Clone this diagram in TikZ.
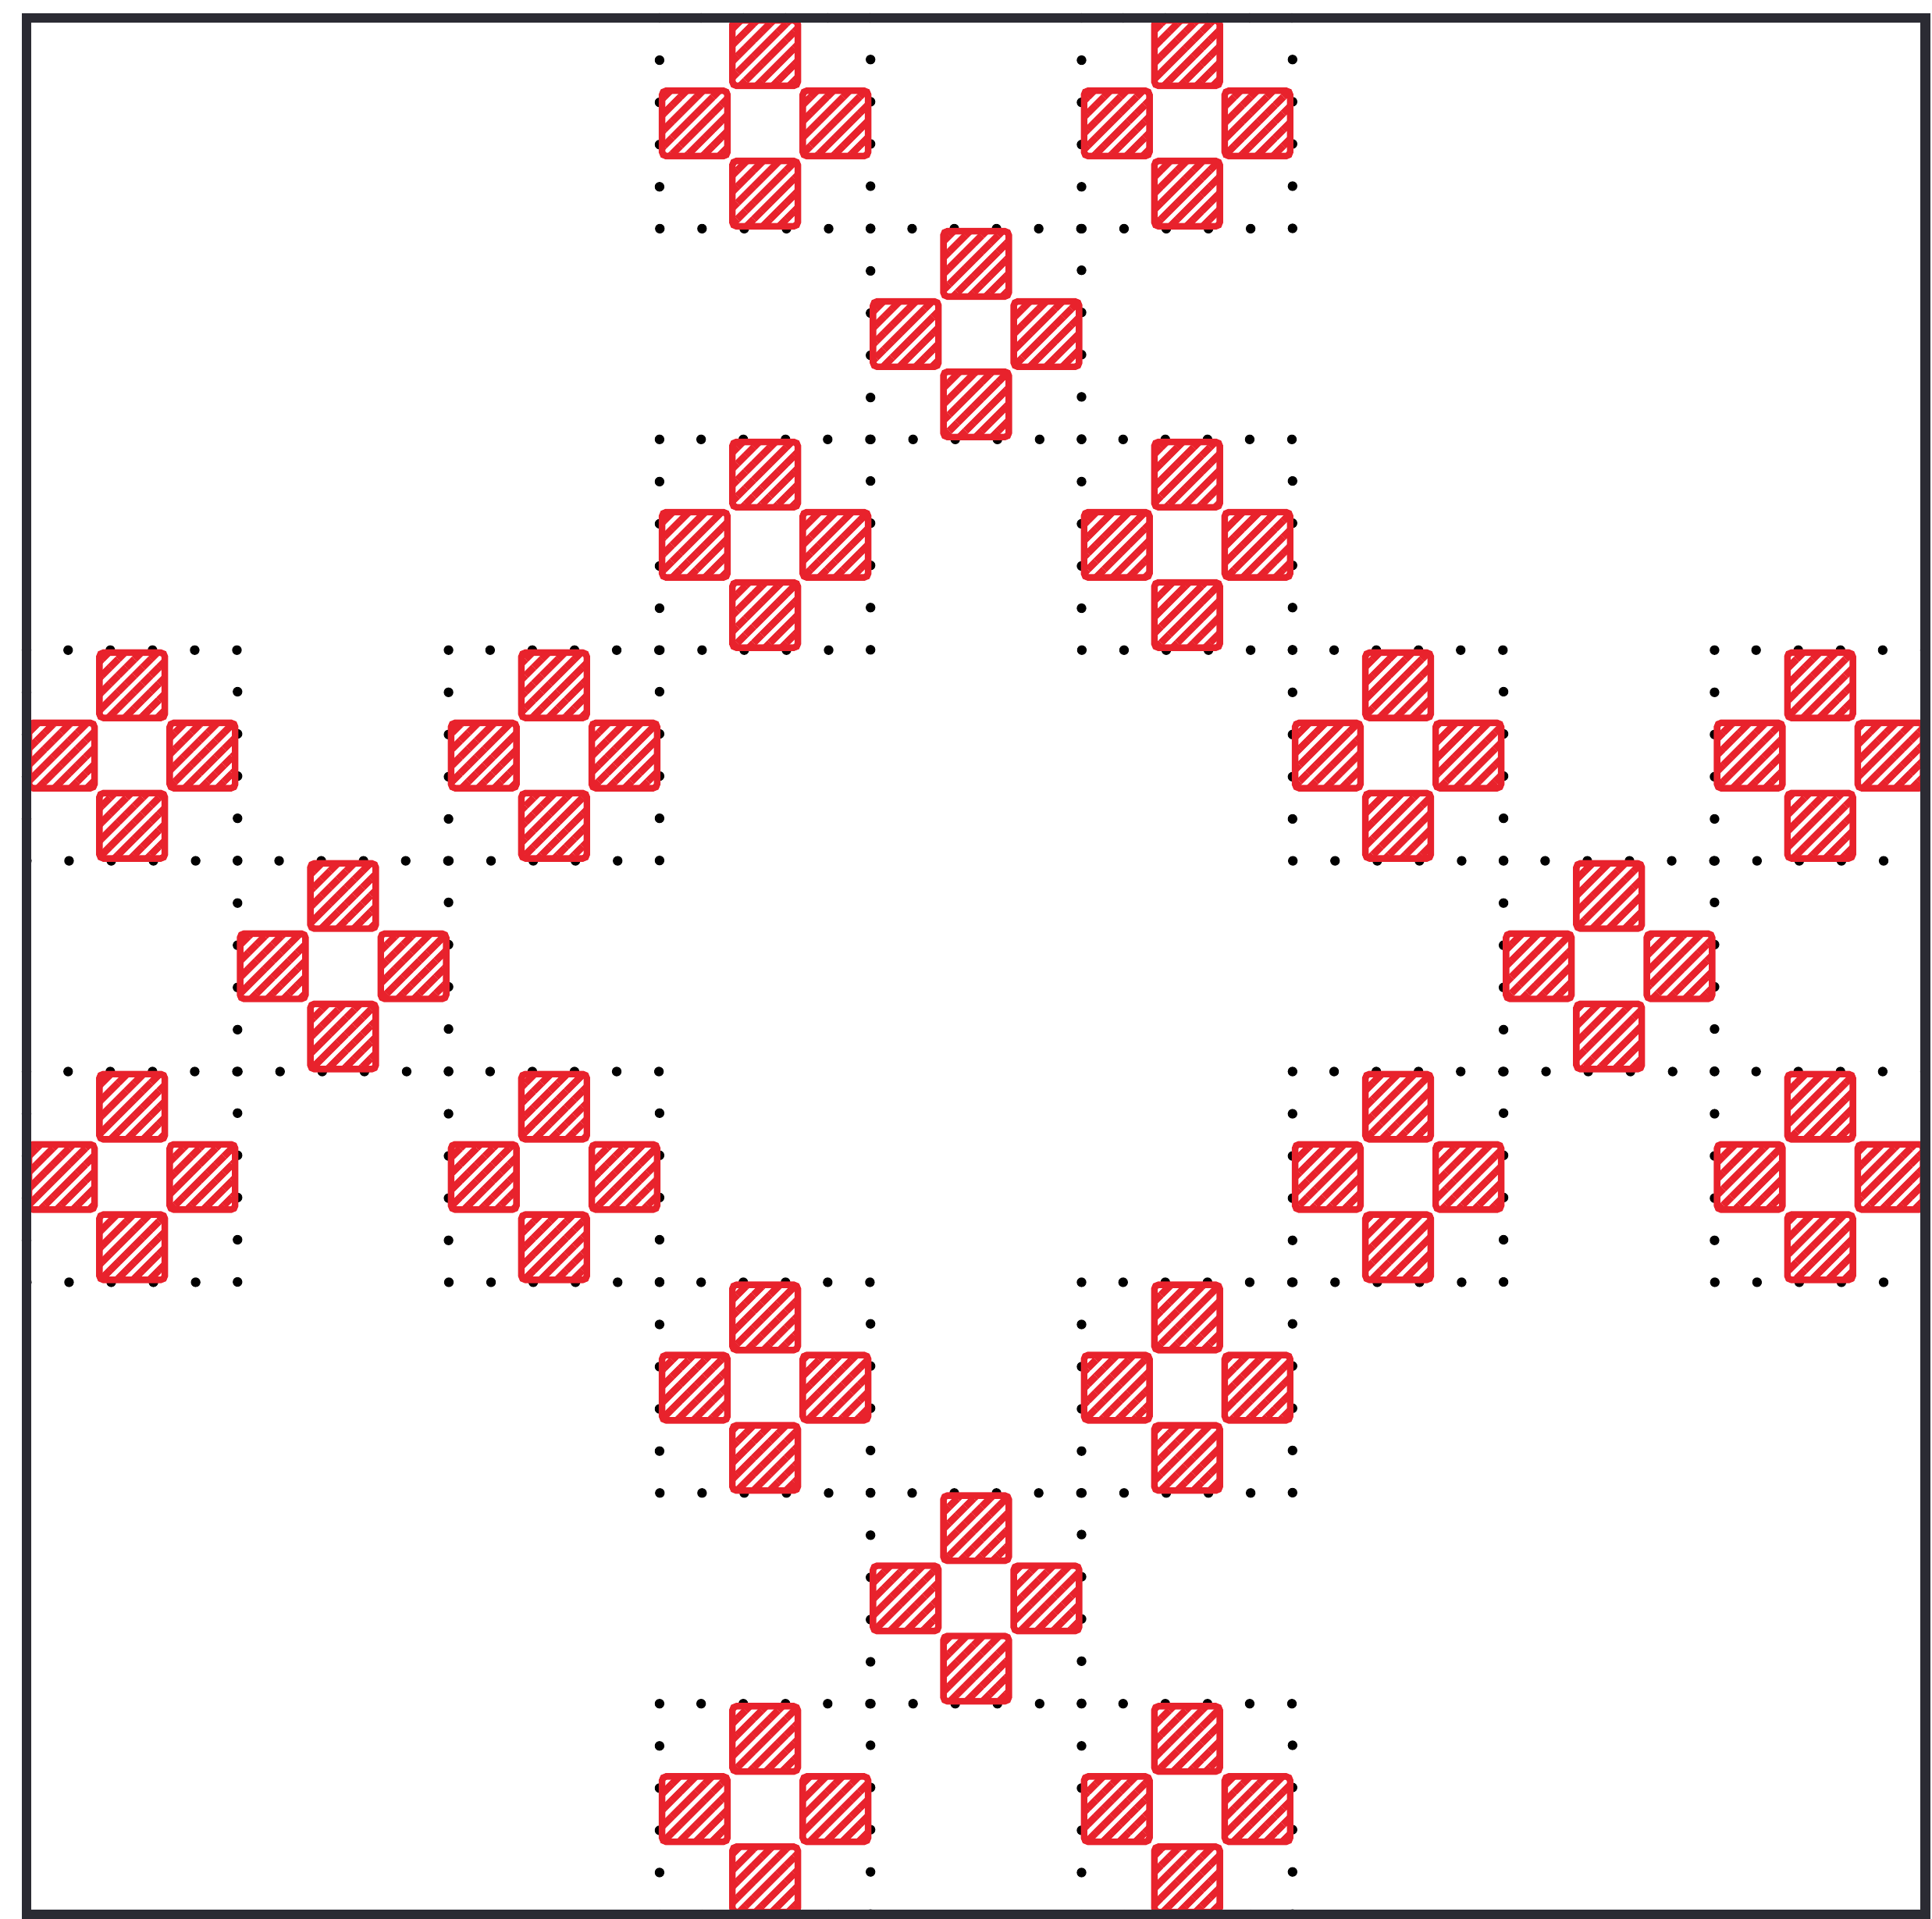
\documentclass[tikz,border=0pt]{standalone}
\usetikzlibrary{patterns.meta}
\definecolor{penred}{HTML}{E8222C}
\definecolor{pengray}{HTML}{2B2B33}

\begin{document}
\begin{tikzpicture}[x=2.703cm, y=-2.699cm,
  frame/.style={draw=pengray, line width=3.6pt},
  cellbox/.style={draw=black, line width=3.5pt, line cap=round, dash pattern=on 0pt off 5.406mm},
  redsq/.style={draw=penred, line width=2.4pt, rounded corners=1.5pt, pattern={Lines[angle=45, distance=4.2pt, line width=2.6pt]}, pattern color=penred}]
  \useasboundingbox (-0.1258,-0.0852) rectangle (9.0307,9.0182);
  % blocks in a plus, cells in an X, red squares in a plus again
  \foreach \bx/\by in {1/0,0/1,2/1,1/2}
    \foreach \cx/\cy in {0/0,2/0,1/1,0/2,2/2} {
      \draw[cellbox] (3*\bx+\cx,3*\by+\cy) rectangle ++(1,1);
      \foreach \sx/\sy in {1/0,0/1,2/1,1/2}
        \draw[redsq] ({3*\bx+\cx+\sx/3+0.012},{3*\by+\cy+\sy/3+0.012}) rectangle ++(0.31,0.31);
    }
  \draw[frame] (0,0) rectangle (9,9);
\end{tikzpicture}
\end{document}
